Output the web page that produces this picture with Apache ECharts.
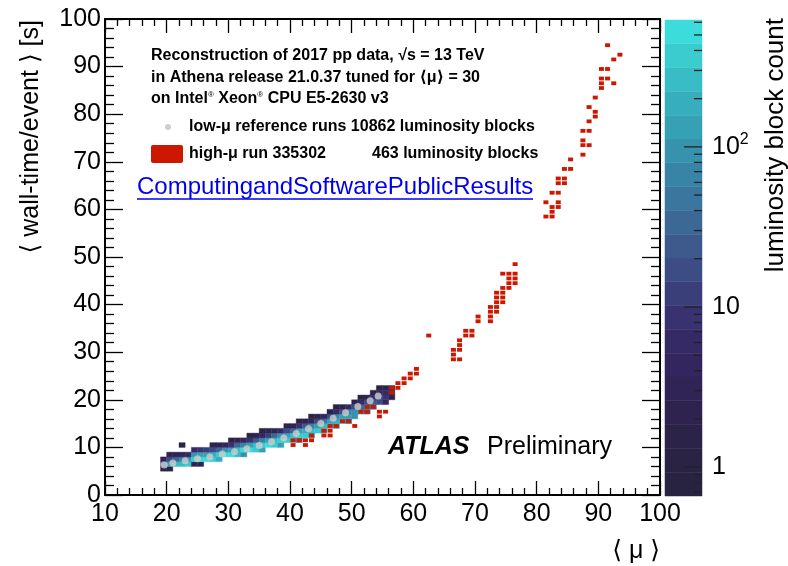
<!DOCTYPE html>
<html>
<head>
<meta charset="utf-8">
<script src="https://cdn.jsdelivr.net/npm/echarts@6/dist/echarts.min.js"></script>
<style>
html, body { margin: 0; padding: 0; background: #fff; }
#chart { width: 788px; height: 566px; }
</style>
</head>
<body>
<div id="chart"></div>
<script>
// low-mu reference runs: one column per <mu> bin (width 1), counts from the lowest time bin upward (1 s bins)
var heatMu    = [19, 20, 21, 22, 23, 24, 25, 26, 27, 28, 29, 30, 31, 32, 33, 34, 35, 36, 37, 38,
                 39, 40, 41, 42, 43, 44, 45, 46, 47, 48, 49, 50, 51, 52, 53, 54, 55, 56];
var heatSLow  = [5, 5, 6, 6, 6, 6, 6, 7, 7, 7, 8, 8, 8, 8, 9, 9, 9, 10, 10, 10,
                 11, 11, 11, 12, 12, 13, 13, 14, 14, 15, 15, 16, 17, 17, 18, 19, 19, 20];
var heatCounts = [
    [2, 30, 3], [1, 150, 15, 2], [250, 30, 3], [300, 60, 4, 0, 1], [350, 80, 6],
    [3, 400, 90, 6], [2, 450, 120, 10], [450, 150, 12], [400, 200, 20, 2], [200, 350, 40, 3],
    [500, 80, 5], [480, 120, 8, 1], [300, 300, 30, 3], [100, 450, 60, 4], [480, 150, 10, 1],
    [350, 250, 25, 2], [150, 420, 60, 5, 1], [450, 150, 12, 2], [350, 250, 30, 3], [150, 380, 80, 6],
    [420, 150, 15, 2], [250, 300, 40, 3], [60, 380, 120, 10, 1], [350, 200, 25, 2], [150, 300, 70, 5, 1],
    [320, 150, 15, 2], [120, 280, 50, 5], [250, 150, 20, 2], [60, 220, 60, 6, 1], [180, 120, 15, 2],
    [30, 150, 60, 6], [100, 100, 20, 2], [110, 40, 6, 1], [30, 60, 20, 3], [40, 25, 8, 2],
    [20, 15, 4, 1], [4, 8, 6, 2], [2, 3, 1]
];

// low-mu profile: mean wall-time per event
var profMu   = [19.6, 21, 23, 25, 27, 29, 31, 33, 35, 37, 39, 41, 43, 45, 47, 49, 51, 53, 54.3];
var profTime = [6.3, 6.7, 7.2, 7.6, 8.0, 8.6, 9.1, 9.7, 10.4, 11.2, 12.0, 12.9, 13.9, 15.0, 16.1, 17.3, 18.6, 19.8, 20.8];

// high-mu run 335302: filled bins [mu bin, time bin]
var highMuBins = [
    [40, 10], [42, 10], [40, 11], [41, 11], [42, 11], [43, 11], [43, 12], [45, 12], [46, 12],
    [45, 13], [46, 13], [46, 14], [47, 14], [50, 14], [48, 15], [49, 15], [54, 16],
    [51, 17], [52, 17], [54, 17], [55, 17], [52, 18], [53, 18], [56, 21], [56, 22], [57, 22],
    [57, 23], [58, 23], [58, 24], [59, 24], [59, 25], [60, 25], [60, 26], [62, 33],
    [66, 28], [67, 28], [66, 29], [66, 30], [67, 30], [67, 31], [67, 32], [68, 33], [69, 33],
    [68, 34], [69, 34], [70, 36], [72, 36], [70, 37], [72, 37], [72, 38], [73, 38], [72, 39], [73, 39],
    [73, 40], [74, 40], [73, 41], [74, 41], [73, 42], [74, 42], [74, 43], [75, 43], [75, 44], [76, 44],
    [75, 45], [76, 45], [74, 46], [75, 46], [76, 46], [76, 48],
    [81, 58], [82, 58], [82, 59], [82, 60], [83, 60], [81, 61], [83, 61], [82, 63], [83, 63],
    [83, 65], [84, 65], [83, 66], [84, 66], [84, 68], [85, 68], [85, 70], [87, 71], [87, 73], [88, 73],
    [87, 74], [87, 76], [88, 76], [88, 78], [89, 79], [89, 80], [88, 81], [89, 83],
    [90, 85], [90, 86], [92, 86], [90, 87], [91, 87], [90, 89], [91, 89], [92, 91], [93, 92], [91, 94]
];

// colour scale (log), 20 bands bottom -> top
var zMin = 0.66, zMax = 620;
var paletteColors = ['#282340', '#2a2344', '#2c2349', '#2e234f', '#302456', '#33265e', '#352a66', '#383270',
                     '#3a3f7a', '#3d4c84', '#3e5a8d', '#3c6896', '#3a769e', '#3884a6', '#3792ae', '#36a0b5',
                     '#36aebd', '#38bcc5', '#3acccf', '#3ddcdc'];
var zMajorTicks = [1, 10, 100];
var zMinorTicks = [0.7, 0.8, 0.9, 2, 3, 4, 5, 6, 7, 8, 9, 20, 30, 40, 50, 60, 70, 80, 90, 200, 300, 400, 500, 600];

var FONT = '"Liberation Sans", Arial, Helvetica, "DejaVu Sans", sans-serif';

function colorFor(v) {
    var t = (Math.log(v) - Math.log(zMin)) / (Math.log(zMax) - Math.log(zMin));
    var i = Math.floor(t * paletteColors.length);
    i = Math.max(0, Math.min(paletteColors.length - 1, i));
    return paletteColors[i];
}

var heatCells = [];
heatMu.forEach(function (mu, i) {
    heatCounts[i].forEach(function (c, j) {
        if (c > 0) heatCells.push([mu, heatSLow[i] + j, c]);
    });
});

var profData = profMu.map(function (m, i) { return [m, profTime[i]]; });

var bandData = paletteColors.map(function (c, i) { return [i]; });
var zTickData = zMajorTicks.map(function (v) { return [v, 18]; })
    .concat(zMinorTicks.map(function (v) { return [v, 8]; }));

function mainAxis(dim, pos, showLabel) {
    var ax = {
        type: 'value', gridIndex: 0, position: pos,
        min: dim === 'x' ? 10 : 0, max: 100, interval: 10,
        axisLine: { show: true, onZero: false, lineStyle: { color: '#000', width: 2 } },
        axisTick: { show: true, inside: true, length: dim === 'x' ? 14 : 18, lineStyle: { color: '#000', width: 1.3 } },
        minorTick: { show: true, splitNumber: 5, length: dim === 'x' ? 7 : 9, lineStyle: { color: '#000', width: 1.3 } },
        splitLine: { show: false },
        axisLabel: { show: showLabel, color: '#000', fontSize: 25, fontFamily: FONT, margin: dim === 'x' ? 7 : 4 }
    };
    return ax;
}

var myChart = echarts.init(document.getElementById('chart'));

var option = {
    animation: false,
    backgroundColor: '#fff',
    grid: [
        { left: 105, top: 19, width: 555, height: 476, outerBoundsMode: 'none' },
        { left: 665, top: 20, width: 37, height: 476, outerBoundsMode: 'none' }
    ],
    xAxis: [
        mainAxis('x', 'bottom', true),
        mainAxis('x', 'top', false),
        { type: 'value', gridIndex: 1, min: 0, max: 1, show: false }
    ],
    yAxis: [
        mainAxis('y', 'left', true),
        mainAxis('y', 'right', false),
        {
            type: 'log', logBase: 10, gridIndex: 1, min: zMin, max: zMax, position: 'right',
            axisLine: { show: false }, axisTick: { show: false }, splitLine: { show: false },
            axisLabel: {
                color: '#000', fontSize: 25, fontFamily: FONT, margin: 10,
                showMinLabel: false, showMaxLabel: false,
                formatter: function (v) {
                    if (Math.abs(v - 1) < 1e-6) return '1';
                    if (Math.abs(v - 10) < 1e-6) return '10';
                    if (Math.abs(v - 100) < 1e-4) return '10{sup|2}';
                    return '';
                },
                rich: { sup: { fontSize: 16, fontFamily: FONT, color: '#000', verticalAlign: 'top', padding: [0, 0, 14, 0] } }
            }
        }
    ],
    series: [
        {
            type: 'custom', xAxisIndex: 0, yAxisIndex: 0, z: 1, clip: true,
            data: heatCells,
            renderItem: function (params, api) {
                var p0 = api.coord([api.value(0), api.value(1) + 1]);
                var p1 = api.coord([api.value(0) + 1, api.value(1)]);
                var col = colorFor(api.value(2));
                return {
                    type: 'rect',
                    shape: { x: p0[0], y: p0[1], width: p1[0] - p0[0], height: p1[1] - p0[1] },
                    style: { fill: col, stroke: col, lineWidth: 0.4 }
                };
            }
        },
        {
            type: 'custom', xAxisIndex: 0, yAxisIndex: 0, z: 2,
            data: highMuBins,
            renderItem: function (params, api) {
                var c = api.coord([api.value(0) + 0.5, api.value(1) + 0.5]);
                return {
                    type: 'rect',
                    shape: { x: c[0] - 2.5, y: c[1] - 1.9, width: 5, height: 3.8 },
                    style: { fill: '#cc1800' }
                };
            }
        },
        {
            type: 'scatter', xAxisIndex: 0, yAxisIndex: 0, z: 3,
            symbol: 'circle', symbolSize: 7,
            itemStyle: { color: '#cdcdcd' },
            data: profData
        },
        {
            type: 'custom', xAxisIndex: 2, yAxisIndex: 2, z: 1,
            data: bandData,
            renderItem: function (params, api) {
                var i = api.value(0);
                var n = paletteColors.length;
                var lo = zMin * Math.pow(zMax / zMin, i / n);
                var hi = zMin * Math.pow(zMax / zMin, (i + 1) / n);
                var p0 = api.coord([0, hi]);
                var p1 = api.coord([1, lo]);
                return {
                    type: 'rect',
                    shape: { x: p0[0], y: p0[1], width: p1[0] - p0[0], height: p1[1] - p0[1] },
                    style: { fill: paletteColors[i], stroke: paletteColors[i], lineWidth: 0.5 }
                };
            }
        },
        {
            type: 'custom', xAxisIndex: 2, yAxisIndex: 2, z: 2,
            data: zTickData,
            renderItem: function (params, api) {
                var p = api.coord([1, api.value(0)]);
                return {
                    type: 'line',
                    shape: { x1: p[0] - api.value(1), y1: p[1], x2: p[0], y2: p[1] },
                    style: { stroke: '#222', lineWidth: 1.3 }
                };
            }
        }
    ],
    graphic: [
        { type: 'text', x: 31, y: 20, rotation: Math.PI / 2,
          style: { text: '\u27e8 wall-time/event \u27e9 [s]', font: '25px ' + FONT, fill: '#000', textAlign: 'right', textVerticalAlign: 'middle' } },
        { type: 'text', x: 660, y: 551,
          style: { text: '\u27e8 \u03bc \u27e9', font: '25px ' + FONT, fill: '#000', textAlign: 'right', textVerticalAlign: 'middle' } },
        { type: 'text', x: 776, y: 18, rotation: Math.PI / 2,
          style: { text: 'luminosity block count', font: '26px ' + FONT, fill: '#000', textAlign: 'right', textVerticalAlign: 'middle' } },

        { type: 'text', x: 151, y: 56,
          style: { text: 'Reconstruction of 2017 pp data, \u221as = 13 TeV', font: 'bold 16px ' + FONT, fill: '#000', textVerticalAlign: 'middle' } },
        { type: 'text', x: 151, y: 78,
          style: { text: 'in Athena release 21.0.37 tuned for \u27e8\u03bc\u27e9 = 30', font: 'bold 16px ' + FONT, fill: '#000', textVerticalAlign: 'middle' } },
        { type: 'text', x: 151, y: 99,
          style: { text: 'on Intel{r|\u00ae} Xeon{r|\u00ae} CPU E5-2630 v3', font: 'bold 16px ' + FONT, fill: '#000', textVerticalAlign: 'middle',
                   rich: { r: { fontSize: 8, fontFamily: FONT, verticalAlign: 'top', fill: '#000' } } } },

        { type: 'circle', shape: { cx: 168, cy: 127, r: 3 }, style: { fill: '#cdcdcd' } },
        { type: 'text', x: 189, y: 127,
          style: { text: 'low-\u03bc reference runs 10862 luminosity blocks', font: 'bold 16px ' + FONT, fill: '#000', textVerticalAlign: 'middle' } },
        { type: 'rect', shape: { x: 151, y: 145, width: 32, height: 18, r: 2 }, style: { fill: '#cc1800' } },
        { type: 'text', x: 189, y: 154,
          style: { text: 'high-\u03bc run 335302', font: 'bold 16px ' + FONT, fill: '#000', textVerticalAlign: 'middle' } },
        { type: 'text', x: 372, y: 154,
          style: { text: '463 luminosity blocks', font: 'bold 16px ' + FONT, fill: '#000', textVerticalAlign: 'middle' } },

        { type: 'text', x: 137, y: 187,
          style: { text: 'ComputingandSoftwarePublicResults', font: '24px ' + FONT, fill: '#0000ee', textVerticalAlign: 'middle' } },
        { type: 'line', shape: { x1: 137, y1: 199, x2: 533, y2: 199 }, style: { stroke: '#0000ee', lineWidth: 1.5 } },

        { type: 'text', x: 388, y: 447,
          style: { text: 'ATLAS', font: 'italic bold 25px ' + FONT, fill: '#000', textVerticalAlign: 'middle' } },
        { type: 'text', x: 487, y: 447,
          style: { text: 'Preliminary', font: '25px ' + FONT, fill: '#000', textVerticalAlign: 'middle' } }
    ]
};

myChart.setOption(option);
</script>
</body>
</html>
